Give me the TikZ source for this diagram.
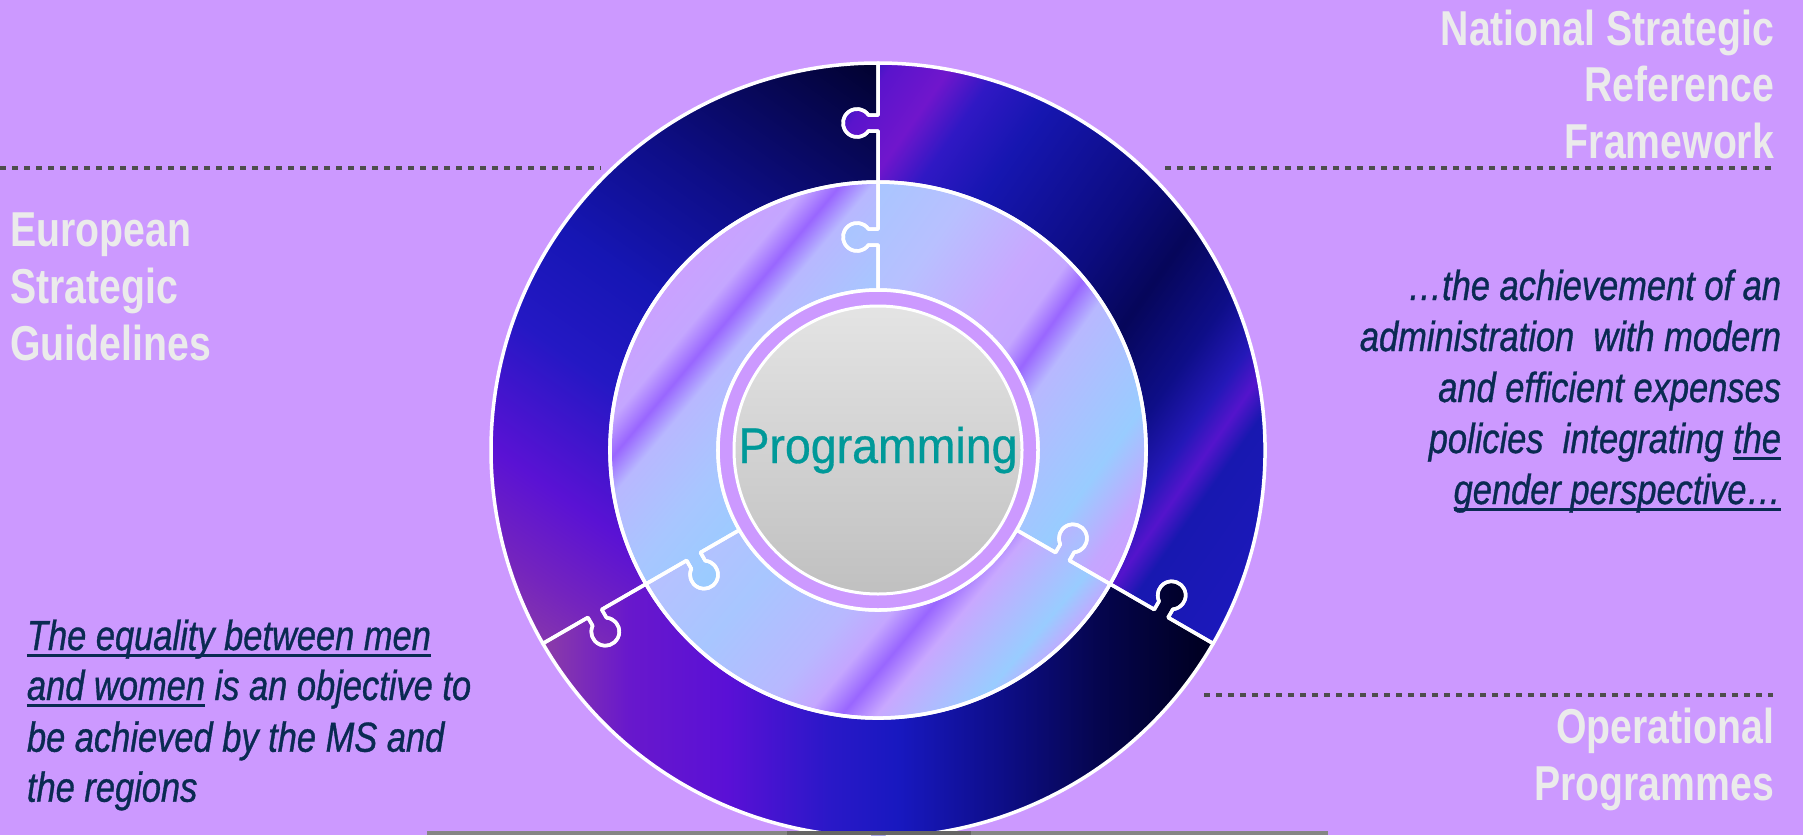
\documentclass[tikz,border=0pt]{standalone}
\usepackage{fontspec}
\usetikzlibrary{calc}
\newfontfamily\labelfont[FakeStretch=0.80]{Liberation Sans}
\newfontfamily\quotefont[FakeStretch=0.82, FakeBold=0.8]{Liberation Sans}
\newfontfamily\progfont[FakeStretch=0.93, FakeBold=0.6]{Liberation Sans}
\definecolor{bglav}{HTML}{CC99FF}
\definecolor{labelgray}{HTML}{EBEBEB}
\definecolor{quoteblue}{HTML}{0A2A52}
\definecolor{dotgray}{HTML}{4D4D4D}
\definecolor{progteal}{HTML}{009999}
\definecolor{coreTop}{HTML}{E4E4E4}
\definecolor{coreBot}{HTML}{C0C0C0}
\definecolor{barGray}{HTML}{858585}
\definecolor{barDark}{HTML}{666666}
% outer A
\definecolor{oA1}{HTML}{8B3BA8}\definecolor{oA2}{HTML}{7424BE}\definecolor{oA3}{HTML}{5A12D4}
\definecolor{oA4}{HTML}{2418C4}\definecolor{oA5}{HTML}{1616B4}\definecolor{oA6}{HTML}{0E0E88}
\definecolor{oA7}{HTML}{06064E}\definecolor{oA8}{HTML}{000024}
% outer B
\definecolor{oB1}{HTML}{1A1AB8}\definecolor{oB2}{HTML}{5A14CC}\definecolor{oB3}{HTML}{7016CC}
\definecolor{oB4}{HTML}{3018C4}\definecolor{oB5}{HTML}{1616B0}\definecolor{oB6}{HTML}{0C0C80}
\definecolor{oB7}{HTML}{06065A}\definecolor{oB8}{HTML}{0E0E88}\definecolor{oB9}{HTML}{2418B8}
\definecolor{oB10}{HTML}{5414CC}\definecolor{oB11}{HTML}{1818B0}\definecolor{oB12}{HTML}{1C18BC}
% outer C
\definecolor{oC1}{HTML}{8A3AAA}\definecolor{oC2}{HTML}{6818CC}\definecolor{oC3}{HTML}{5A10D6}
\definecolor{oC4}{HTML}{2A18C8}\definecolor{oC5}{HTML}{1818C0}\definecolor{oC6}{HTML}{0E0E8A}
\definecolor{oC7}{HTML}{05054E}\definecolor{oC8}{HTML}{000024}
% inner
\definecolor{iBlue}{HTML}{99CCFF}\definecolor{iLav}{HTML}{CCA0FF}\definecolor{iVio}{HTML}{9966FF}
\definecolor{iPale}{HTML}{C8A8FF}\definecolor{iPeri}{HTML}{B8B8FF}\definecolor{iSky}{HTML}{A8C6FF}
\definecolor{iLav2}{HTML}{C4A6FF}\definecolor{iPeri2}{HTML}{B8C0FF}
\pgfdeclarehorizontalshading{outerA}{100bp}{color(0bp)=(oA1); color(26.9bp)=(oA1); color(31.25bp)=(oA2); color(36.25bp)=(oA3); color(43.75bp)=(oA4); color(50bp)=(oA5); color(57.5bp)=(oA6); color(65.6bp)=(oA7); color(71.25bp)=(oA8); color(100bp)=(oA8)}
\pgfdeclarehorizontalshading{outerB}{100bp}{color(0bp)=(oB1); color(35bp)=(oB1); color(36.9bp)=(oB2); color(40bp)=(oB3); color(42.5bp)=(oB4); color(46.25bp)=(oB5); color(53.75bp)=(oB6); color(58.1bp)=(oB7); color(62.5bp)=(oB8); color(65.3bp)=(oB9); color(66.9bp)=(oB10); color(68.4bp)=(oB11); color(74.4bp)=(oB12); color(100bp)=(oB12)}
\pgfdeclarehorizontalshading{outerC}{100bp}{color(0bp)=(oC1); color(29.4bp)=(oC1); color(34.4bp)=(oC2); color(40.6bp)=(oC3); color(46.9bp)=(oC4); color(51.25bp)=(oC5); color(57.5bp)=(oC6); color(63.75bp)=(oC7); color(70bp)=(oC8); color(100bp)=(oC8)}
\pgfdeclarehorizontalshading{innerA}{100bp}{color(0bp)=(iBlue); color(52.5bp)=(iBlue); color(56.9bp)=(iSky); color(60.94bp)=(iPeri); color(62.5bp)=(iVio); color(64.06bp)=(iLav2); color(67.5bp)=(iLav); color(100bp)=(iLav)}
\pgfdeclarehorizontalshading{innerB}{100bp}{color(0bp)=(iSky); color(40bp)=(iSky); color(45.3bp)=(iPeri2); color(50.5bp)=(iPale); color(52.8bp)=(iLav2); color(54.25bp)=(iVio); color(55.9bp)=(iPeri); color(61.9bp)=(iBlue); color(65bp)=(iLav2); color(66.9bp)=(iLav); color(100bp)=(iLav)}
\pgfdeclarehorizontalshading{innerC}{100bp}{color(0bp)=(iPeri2); color(43.75bp)=(iPeri2); color(49.6bp)=(iSky); color(55bp)=(iPeri); color(57.2bp)=(iLav2); color(58.9bp)=(iVio); color(60.6bp)=(iPale); color(65bp)=(iBlue); color(66.9bp)=(iLav2); color(100bp)=(iLav2)}
\newsavebox\ulbox
\newcommand\ulx[1]{\sbox\ulbox{#1}\rlap{\rule[-6.5pt]{\wd\ulbox}{3pt}}\usebox\ulbox}
% puzzle piece from 90 to 210 degrees: #1 inner radius, #2 outer radius, #3 knob radius
\newcommand\piecepath[3]{(90:#1) -- (90:{#3-8}) -- ($(90:{#3-8})+(180:9.51)$) arc[start angle=325.15, end angle=34.85, radius=14] -- (90:{#3+8}) -- (90:#2) arc[start angle=90, end angle=210, radius=#2] -- (210:{#3+8}) -- ($(210:{#3+8})+(300:9.51)$) arc[start angle=154.85, end angle=445.15, radius=14] -- (210:{#3-8}) -- (210:#1) arc[start angle=210, end angle=90, radius=#1] -- cycle}
\tikzset{
  lbl/.style={inner sep=0pt, outer sep=0pt, text=labelgray, font=\labelfont\bfseries\fontsize{49}{60}\selectfont},
  quote/.style={inner sep=0pt, outer sep=0pt, text=quoteblue, font=\quotefont\itshape\fontsize{42}{50}\selectfont},
  dotline/.style={draw=dotgray, line width=4pt, dash pattern=on 5.5pt off 6.5pt},
  seamline/.style={draw=white, line width=3.5pt, line join=round}
}
\begin{document}
\begin{tikzpicture}[x=1pt,y=1pt]
\useasboundingbox (0,0) rectangle (1803,-835);
\fill[bglav] (0,0) rectangle (1803,-835);
% dotted separators
\coordinate (d1a) at (0,-167.5);
\coordinate (d1b) at (601,-167.5);
\coordinate (d2a) at (1165,-167.5);
\coordinate (d2b) at (1773,-167.5);
\coordinate (d3a) at (1204,-695);
\coordinate (d3b) at (1773,-695);
\draw[dotline] (d1a) -- (d1b);
\draw[dotline] (d2a) -- (d2b);
\draw[dotline] (d3a) -- (d3b);
\begin{scope}[shift={(878,-450)}]
  % outer ring pieces
  \begin{scope}\clip[rotate=0] \piecepath{268}{387}{327};
    \shade[shading=outerA, shading angle=55] (-400,-400) rectangle (400,400);\end{scope}
  \begin{scope}\clip[rotate=120] \piecepath{268}{387}{327};
    \shade[shading=outerC, shading angle=0] (-400,-400) rectangle (400,400);\end{scope}
  \begin{scope}\clip[rotate=240] \piecepath{268}{387}{327};
    \shade[shading=outerB, shading angle=-35] (-400,-400) rectangle (400,400);\end{scope}
  % inner ring pieces
  \begin{scope}\clip[rotate=0] \piecepath{160}{268}{213};
    \shade[shading=innerA, shading angle=140] (-400,-400) rectangle (400,400);\end{scope}
  \begin{scope}\clip[rotate=120] \piecepath{160}{268}{213};
    \shade[shading=innerC, shading angle=-40] (-400,-400) rectangle (400,400);\end{scope}
  \begin{scope}\clip[rotate=240] \piecepath{160}{268}{213};
    \shade[shading=innerB, shading angle=-35.5] (-400,-400) rectangle (400,400);\end{scope}
  % white outlines
  \foreach \r in {0,120,240}{
    \draw[seamline, rotate=\r] \piecepath{268}{387}{327};
    \draw[seamline, rotate=\r] \piecepath{160}{268}{213};
  }
  \node[circle, fill=bglav, draw=white, line width=3.5pt, minimum size=320pt, inner sep=0pt] (ring) at (0,0) {};
  \node[circle, top color=coreTop, bottom color=coreBot, draw=white, line width=3pt, minimum size=288pt, inner sep=0pt] (core) at (0,0) {};
\end{scope}
\node[inner sep=0pt, anchor=base, text=progteal, font=\progfont\fontsize{50}{60}\selectfont] (prog) at (878,-463) {Programming};
% labels
\node[lbl, anchor=base west] (eu1) at (10.5,-246.7) {European};
\node[lbl, anchor=base west] (eu2) at (10.5,-303.3) {Strategic};
\node[lbl, anchor=base west] (eu3) at (10.5,-360) {Guidelines};
\node[lbl, anchor=base east] (ns1) at (1774,-45) {National Strategic};
\node[lbl, anchor=base east] (ns2) at (1774,-101.7) {Reference};
\node[lbl, anchor=base east] (ns3) at (1774,-158.3) {Framework};
\node[lbl, anchor=base east] (op1) at (1774,-743.3) {Operational};
\node[lbl, anchor=base east] (op2) at (1774,-800) {Programmes};
% quotes
\node[quote, anchor=base west] (q1) at (27,-650) {\ulx{The equality between men}};
\node[quote, anchor=base west] (q2) at (27,-700) {\ulx{and women} is an objective to};
\node[quote, anchor=base west] (q3) at (27,-751.7) {be achieved by the MS and};
\node[quote, anchor=base west] (q4) at (27,-801.7) {the regions};
\node[quote, anchor=base east] (r1) at (1781,-300) {…the achievement of an};
\node[quote, anchor=base east] (r2) at (1781,-351) {administration\ \ with modern};
\node[quote, anchor=base east] (r3) at (1781,-402) {and efficient expenses};
\node[quote, anchor=base east] (r4) at (1781,-453) {policies\ \ integrating \ulx{the}};
\node[quote, anchor=base east] (r5) at (1781,-504) {\ulx{gender perspective…}};
% bottom bar
\fill[barGray] (427,-831) rectangle (1328,-835);
\fill[barDark] (787,-831) rectangle (971,-835);
\end{tikzpicture}
\end{document}
